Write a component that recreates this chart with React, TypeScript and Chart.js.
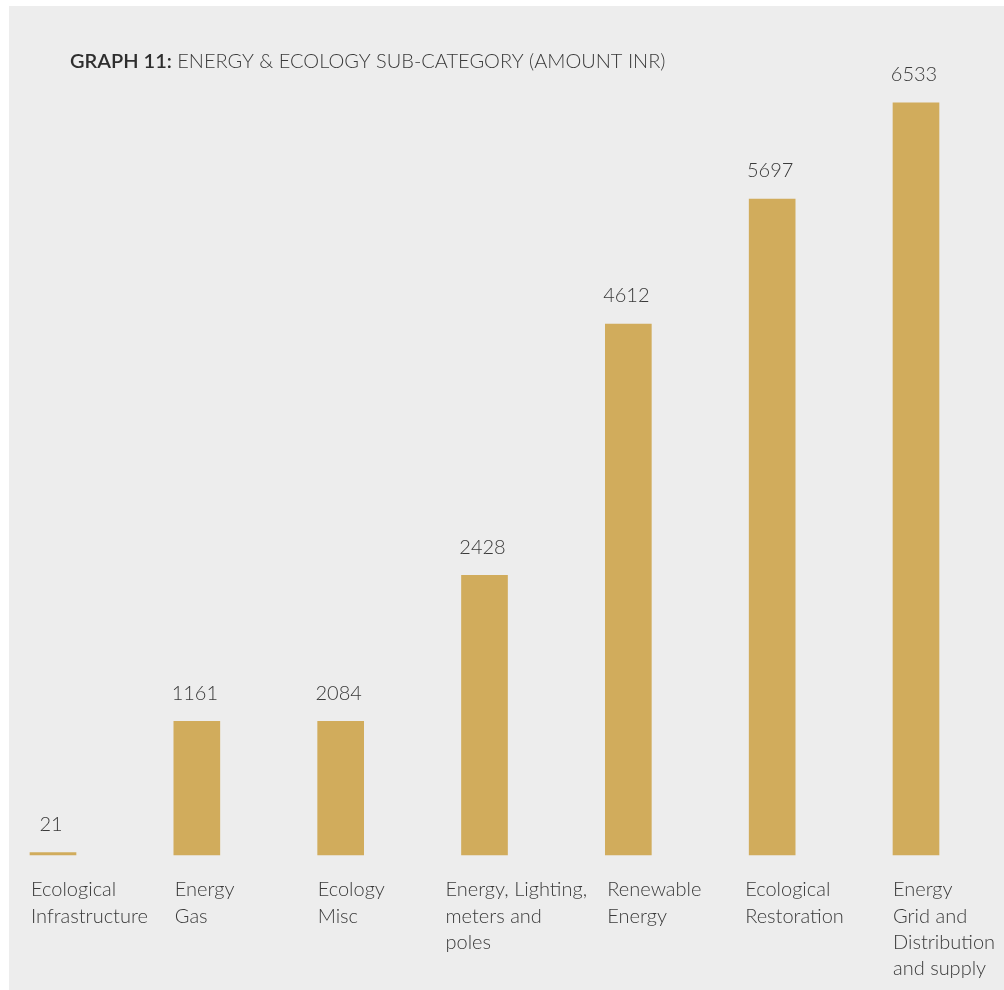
import React, { useEffect, useRef } from "react";
import { Chart, registerables } from "chart.js";

Chart.register(...registerables);

const categories: string[][] = [
  ["Ecological", "Infrastructure"],
  ["Energy", "Gas"],
  ["Ecology", "Misc"],
  ["Energy, Lighting,", "meters and", "poles"],
  ["Renewable", "Energy"],
  ["Ecological", "Restoration"],
  ["Energy", "Grid and", "Distribution", "and supply"],
];
// printed amounts above the bars
const amountLabels: number[] = [21, 1161, 2084, 2428, 4612, 5697, 6533];
// bar heights as drawn in the reference (the "Ecology Misc" bar is drawn at the same height as "Energy Gas")
const barValues: number[] = [21, 1161, 1161, 2428, 4612, 5697, 6533];

const titleBold = "GRAPH 11:";
const titleRest = " ENERGY & ECOLOGY SUB-CATEGORY (AMOUNT INR)";

const FONT = "Lato, 'Open Sans', sans-serif";

export default function App() {
  const ref = useRef<HTMLCanvasElement | null>(null);
  useEffect(() => {
    const canvas = ref.current!;
    // small horizontal nudges of the category labels relative to the bar's left edge
    const labelNudge = [1, 1, 0, -16, 2, -4, 0];
    const decor = {
      id: "decor",
      beforeDraw(chart: any) {
        const ctx = chart.ctx;
        ctx.save();
        ctx.fillStyle = "#ffffff";
        ctx.fillRect(0, 0, chart.width, chart.height);
        ctx.fillStyle = "#ededed";
        ctx.fillRect(9, 6, chart.width - 9, chart.height - 6);
        ctx.textBaseline = "alphabetic";
        ctx.textAlign = "left";
        ctx.fillStyle = "#2e2e2e";
        ctx.font = `600 20px ${FONT}`;
        ctx.fillText(titleBold, 70, 68);
        const w = ctx.measureText(titleBold).width;
        ctx.fillStyle = "#3a3a3a";
        ctx.font = `300 20px ${FONT}`;
        ctx.fillText(titleRest, 70 + w, 68);
        ctx.restore();
      },
      afterDatasetsDraw(chart: any) {
        const ctx = chart.ctx;
        const meta = chart.getDatasetMeta(0);
        ctx.save();
        ctx.fillStyle = "#3a3a3a";
        ctx.font = `300 20px ${FONT}`;
        meta.data.forEach((bar: any, i: number) => {
          ctx.textAlign = "center";
          ctx.textBaseline = "middle";
          ctx.fillText(String(amountLabels[i]), bar.x - 2, bar.y - 28);
          ctx.textAlign = "left";
          const left = bar.x - bar.width / 2 + labelNudge[i];
          categories[i].forEach((line, j) => {
            ctx.fillText(line, left, 890 + j * 26.3);
          });
        });
        ctx.restore();
      },
    };
    const chart = new Chart(canvas, {
      type: "bar",
      data: {
        labels: categories.map((c) => c.join(" ")),
        datasets: [
          {
            data: barValues,
            backgroundColor: "#d1ac5c",
            barThickness: 46,
            borderWidth: 0,
            clip: false as any,
          },
        ],
      },
      options: {
        responsive: false,
        animation: false,
        layout: { padding: { left: 53, right: 88, top: 49, bottom: 135 } },
        plugins: { legend: { display: false }, tooltip: { enabled: false }, title: { display: false } },
        scales: {
          x: { display: false, offset: false, grid: { display: false } },
          y: { display: false, min: 0, max: 7000, grid: { display: false } },
        },
      },
      plugins: [decor],
    });
    return () => chart.destroy();
  }, []);
  return (
    <div style={{ position: "absolute", left: 0, top: 0, width: 1004, height: 990 }}>
      <canvas ref={ref} width={1004} height={990} style={{ display: "block", width: 1004, height: 990 }} />
    </div>
  );
}
